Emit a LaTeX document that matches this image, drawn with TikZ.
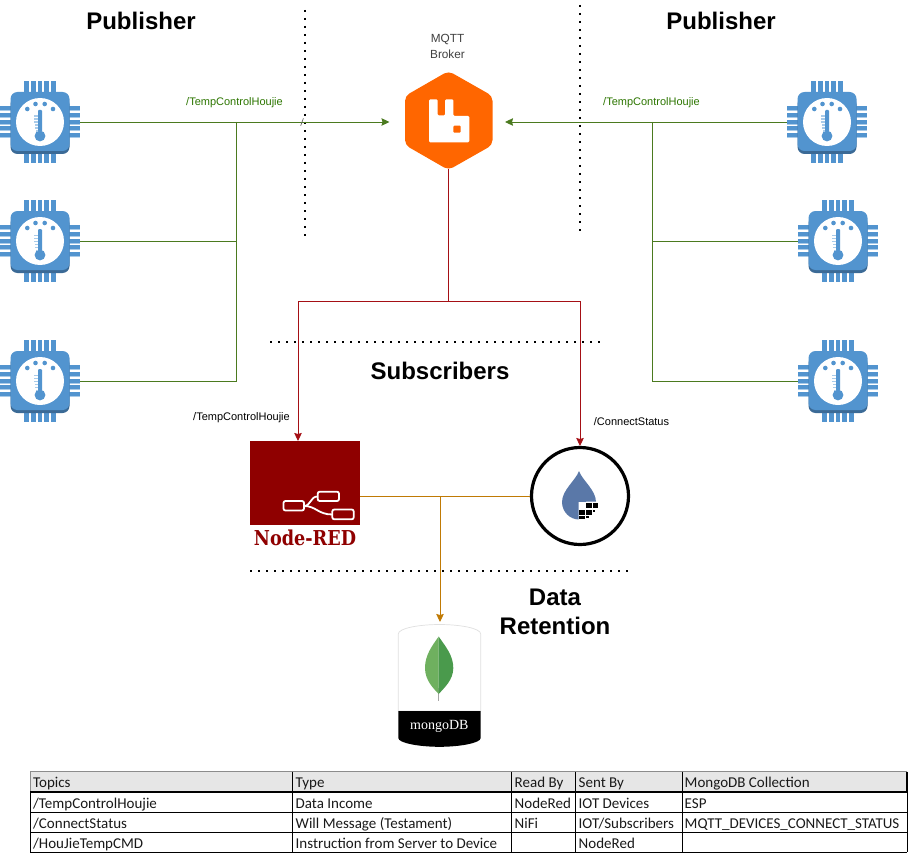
\documentclass[tikz,border=0pt]{standalone}
\usepackage{fontspec}
\setmainfont{Liberation Sans}
\newfontfamily\tablefont{Carlito}
\newfontfamily\slabfont{DejaVu Serif}
\newfontfamily\timesfont{Liberation Serif}
\usetikzlibrary{arrows.meta,calc}
\definecolor{chipblue}{HTML}{5294CF}
\definecolor{chipdark}{HTML}{3B6A96}
\definecolor{chiplight}{HTML}{A9CBE9}
\definecolor{pubgreen}{HTML}{4B7A1F}
\definecolor{labgreen}{HTML}{2D7600}
\definecolor{subred}{HTML}{A50F15}
\definecolor{retorange}{HTML}{C07A04}
\definecolor{brokerorange}{HTML}{FF6600}
\definecolor{nodered}{HTML}{8F0000}
\definecolor{nifiblue}{HTML}{5A78A8}
\definecolor{leafl}{HTML}{6FB05F}
\definecolor{leafr}{HTML}{4A9A4C}
\definecolor{tablehead}{HTML}{E6E6E6}
\tikzset{
  chipbox/.style={minimum size=80pt,inner sep=0pt,outer sep=0pt},
  publine/.style={draw=pubgreen,line width=0.9pt},
  subline/.style={draw=subred,line width=0.9pt},
  retline/.style={draw=retorange,line width=0.9pt},
  arrowtip/.style={-{Stealth[length=8pt,width=7.5pt,inset=1pt]}},
  sep dots/.style={line width=1.6pt,dash pattern=on 2pt off 6pt},
  bigtitle/.style={font=\bfseries\fontsize{24}{26}\selectfont,inner sep=0pt},
  smalllabel/.style={font=\fontsize{11}{13}\selectfont,inner sep=0pt},
  tabletext/.style={font=\tablefont\fontsize{15}{16}\selectfont,anchor=base west,inner sep=0pt,text=black!90},
  pics/chip/.style={code={
    \foreach \k in {-2,...,2}{
      \fill[chipblue] (\k*6.7-2.4,-41) rectangle (\k*6.7+2.4,41);
      \fill[chipblue] (-40,\k*6.6-2.4) rectangle (40,\k*6.6+2.4);
      \fill[chiplight] (-40,\k*6.6+1.6) rectangle (-29,\k*6.6+2.4);
      \fill[chiplight] (29,\k*6.6+1.6) rectangle (40,\k*6.6+2.4);
    }
    \fill[chipdark,rounded corners=7pt] (-29.5,-25) rectangle (29.5,32);
    \fill[chipblue,rounded corners=7pt] (-29.5,-30) rectangle (29.5,29);
    \fill[white] (0,0) circle (24);
    \fill[chipblue,rounded corners=1pt] (-2,-12) rectangle (2,10);
    \fill[chipblue] (0,14) circle (5.4);
    \foreach \k in {0,...,5}{
      \fill[chiplight] (-6.5+\k*0.4,-6.5+\k*3) rectangle (-2,-5.3+\k*3);
    }
    \foreach \p in {(-12.7,-13),(-4.5,-18),(4.7,-18),(13,-13)}{
      \fill[chipblue] \p circle (2.3);
    }
  }},
}
\begin{document}
\begin{tikzpicture}[x=1pt,y=-1pt]
\useasboundingbox (0,0) rectangle (909,853);
\fill[white] (0,0) rectangle (909,853);

% separators
\node[bigtitle] (pubL) at (141,21) {Publisher};
\node[bigtitle] (pubR) at (721,21) {Publisher};
\node[bigtitle] (subT) at (440,371) {Subscribers};
\node[bigtitle,align=center,font=\bfseries\fontsize{24}{29}\selectfont] (retT) at (555,611.5) {Data\\Retention};
\coordinate (dv1a) at (305,10); \coordinate (dv1b) at (305,238);
\coordinate (dv2a) at (580,5); \coordinate (dv2b) at (580,233);
\coordinate (dh1a) at (270,342); \coordinate (dh1b) at (602,342);
\coordinate (dh2a) at (250,571); \coordinate (dh2b) at (630,571);
\draw[sep dots] (dv1a) -- (dv1b);
\draw[sep dots] (dv2a) -- (dv2b);
\draw[sep dots] (dh1a) -- (dh1b);
\draw[sep dots] (dh2a) -- (dh2b);

% sensors
\node[chipbox] (sL1) at (40,122) {};
\node[chipbox] (sL2) at (40,241) {};
\node[chipbox] (sL3) at (40,381) {};
\node[chipbox] (sR1) at (827,122) {};
\node[chipbox] (sR2) at (838,241) {};
\node[chipbox] (sR3) at (838,381) {};
\foreach \n in {sL1,sL2,sL3,sR1,sR2,sR3}{ \pic at (\n) {chip}; }

% broker
\node[minimum width=88pt,minimum height=98pt,inner sep=0pt,outer sep=0pt] (broker) at (448.5,120.5) {};
\fill[brokerorange,rounded corners=5pt] (448.5,71) -- (492.5,96) -- (492.5,145) -- (448.5,170) -- (405,145) -- (405,96) -- cycle;
\fill[white,rounded corners=1.2pt] (429,99.3) -- (437.7,99.3) -- (437.7,115.5) -- (445,115.5) -- (445,99.3) -- (453.3,99.3) -- (453.3,116) -- (469.3,116) -- (469.3,142.3) -- (429,142.3) -- cycle;
\fill[brokerorange,rounded corners=1pt] (453.3,125.7) rectangle (460.7,132.7);
\node[smalllabel,align=center,text=black!75,font=\fontsize{11.8}{16}\selectfont] (brokerlab) at (447.5,46) {MQTT\\Broker};

% publisher connectors
\coordinate (jL1) at (236,122);
\coordinate (jL2) at (236,241);
\coordinate (jL3) at (236,381);
\coordinate (jR1) at (652,122);
\coordinate (jR2) at (652,241);
\coordinate (jR3) at (652,381);
\draw[publine,arrowtip,shorten >=15pt] (sL1.east) -- (broker.west |- jL1);
\draw[publine,arrowtip,shorten >=12.5pt] (sR1.west) -- (broker.east |- jR1);
\draw[publine] (jL1) -- (jL3) -- (sL3.east);
\draw[publine] (jL2) -- (sL2.east);
\draw[publine] (jR1) -- (jR3) -- (sR3.west);
\draw[publine] (jR2) -- (sR2.west);
\coordinate (slashA) at (303.4,118.3);
\coordinate (slashB) at (300.7,125.7);
\draw[black!60,line width=0.7pt] (slashA) -- (slashB);
\node[smalllabel,text=labgreen] (topicL) at (234.5,103) {/TempControlHoujie};
\node[smalllabel,text=labgreen] (topicR) at (651.5,103) {/TempControlHoujie};

% node-red
\node[fill=nodered,minimum width=110pt,minimum height=84pt,inner sep=0pt,outer sep=0pt] (nred) at (305,483) {};
\begin{scope}[draw=white,line width=1.8pt,fill=nodered]
  \draw[rounded corners=2pt] (283.5,501) rectangle (304,510.5);
  \draw[rounded corners=2pt] (317.7,491.7) rectangle (339,501);
  \draw[rounded corners=2pt] (332.3,509.5) rectangle (353.7,519.3);
  \draw (304,506) .. controls (311,506) and (310,496.5) .. (317.7,496.5);
  \draw (304,506) .. controls (316,506) and (318,514.5) .. (332.3,514.5);
\end{scope}
\node[inner sep=0pt,text=nodered] (nredtxt) at (305,537.5) {\scalebox{0.86}[1]{\slabfont\bfseries\fontsize{20.5}{22}\selectfont Node-RED}};

% nifi
\node[circle,draw=black,line width=3.2pt,fill=white,minimum size=97pt,inner sep=0pt,outer sep=1.5pt] (nifi) at (580,496) {};
\fill[nifiblue] (579,471) .. controls (582,480) and (596,490) .. (596,502) .. controls (596,512) and (588,519.5) .. (579,519.5) .. controls (570,519.5) and (562,512) .. (562,502) .. controls (562,490) and (576,480) .. (579,471) -- cycle;
\fill[white] (578.5,502) -- (586,502) -- (586,501.5) -- (598,501.5) -- (598,521) -- (578.5,521) -- cycle;
\fill[black] (586,502.7) rectangle (591.7,507.7);
\fill[black] (592.7,502.7) rectangle (597.7,507.7);
\fill[black] (579.3,509.7) rectangle (585,515);
\fill[black] (586,509.7) rectangle (591.7,515);
\fill[black] (592.7,509.7) rectangle (595,512);
\fill[black] (579.3,516) rectangle (585,519);
\fill[black] (586,516) rectangle (589,518);

% mongodb
\node[minimum width=83pt,minimum height=122pt,inner sep=0pt,outer sep=0pt] (mongo) at (439.5,685.5) {};
\draw[black!12,fill=white,line width=0.7pt] (398.3,634) .. controls (398.3,628) and (420,624.5) .. (439.5,624.5) .. controls (459,624.5) and (480.7,628) .. (480.7,634) -- (480.7,711) -- (398.3,711) -- cycle;
\fill[black] (398.3,711) -- (480.7,711) -- (480.7,738) .. controls (480.7,743) and (460,746.8) .. (439.5,746.8) .. controls (419,746.8) and (398.3,743) .. (398.3,738) -- cycle;
\draw[black!35,line width=1pt] (438.7,688) -- (438.7,701);
\fill[leafl] (438.7,636.5) .. controls (432,646) and (425,655) .. (425,668) .. controls (425,680) and (433,688) .. (438.7,694) -- cycle;
\fill[leafr] (438.7,636.5) .. controls (445,646) and (453.3,655) .. (453.3,668) .. controls (453.3,680) and (444,688) .. (438.7,694) -- cycle;
\node[inner sep=0pt,text=white,font=\timesfont\fontsize{14}{16}\selectfont] (mongotxt) at (439.3,726) {mongoDB};

% subscriber connectors
\coordinate (rTrunk) at (broker.south |- 0,301);
\coordinate (nredIn) at ($(nred.north)+(-7,0)$);
\coordinate (rLeft) at (nredIn |- rTrunk);
\coordinate (rRight) at (nifi.north |- rTrunk);
\draw[subline] (broker.south) -- (rTrunk);
\draw[subline,arrowtip] (rTrunk) -- (rLeft) -- (nredIn);
\draw[subline,arrowtip] (rTrunk) -- (rRight) -- (nifi.north);
\node[smalllabel] (topicS1) at (241.5,418) {/TempControlHoujie};
\node[smalllabel] (topicS2) at (631.5,422) {/ConnectStatus};

% retention connectors
\coordinate (oJoin) at (440,496);
\coordinate (oEnd) at (440,622);
\draw[retline] (nred.east |- oJoin) -- (nifi.west |- oJoin);
\draw[retline,arrowtip] (oJoin) -- (oEnd);

% table
\fill[tablehead] (30,771.5) rectangle (907,792);
\draw[black!45,line width=1pt] (30,771.5) -- (907,771.5);
\draw[black!45,line width=1pt] (30,771.5) -- (30,792);
\draw[black,line width=1pt] (30,792) -- (30,852);
\foreach \cx in {292.5,511.7,575.7,682}{ \draw[black,line width=0.9pt] (\cx,771.5) -- (\cx,852); }
\draw[black,line width=1.8pt] (907,771.5) -- (907,792);
\draw[black,line width=1pt] (907,792) -- (907,852);
\draw[black,line width=2pt] (30,792) -- (907,792);
\foreach \ry in {812.2,832.2,852}{ \draw[black,line width=0.9pt] (30,\ry) -- (907,\ry); }
\node[tabletext] (t11) at (33,787.5) {Topics};
\node[tabletext] (t12) at (295.5,787.5) {Type};
\node[tabletext] (t13) at (514.5,787.5) {Read By};
\node[tabletext] (t14) at (578.5,787.5) {Sent By};
\node[tabletext] (t15) at (684.5,787.5) {MongoDB Collection};
\node[tabletext] (t21) at (33,808) {/TempControlHoujie};
\node[tabletext] (t22) at (295.5,808) {Data Income};
\node[tabletext] (t23) at (514.5,808) {NodeRed};
\node[tabletext] (t24) at (578.5,808) {IOT Devices};
\node[tabletext] (t25) at (684.5,808) {ESP};
\node[tabletext] (t31) at (33,828) {/ConnectStatus};
\node[tabletext] (t32) at (295.5,828) {Will Message (Testament)};
\node[tabletext] (t33) at (514.5,828) {NiFi};
\node[tabletext] (t34) at (578.5,828) {IOT/Subscribers};
\node[tabletext] (t35) at (684.5,828) {MQTT\_DEVICES\_CONNECT\_STATUS};
\node[tabletext] (t41) at (33,848) {/HouJieTempCMD};
\node[tabletext] (t42) at (295.5,848) {Instruction from Server to Device};
\node[tabletext] (t44) at (578.5,848) {NodeRed};
\end{tikzpicture}
\end{document}
